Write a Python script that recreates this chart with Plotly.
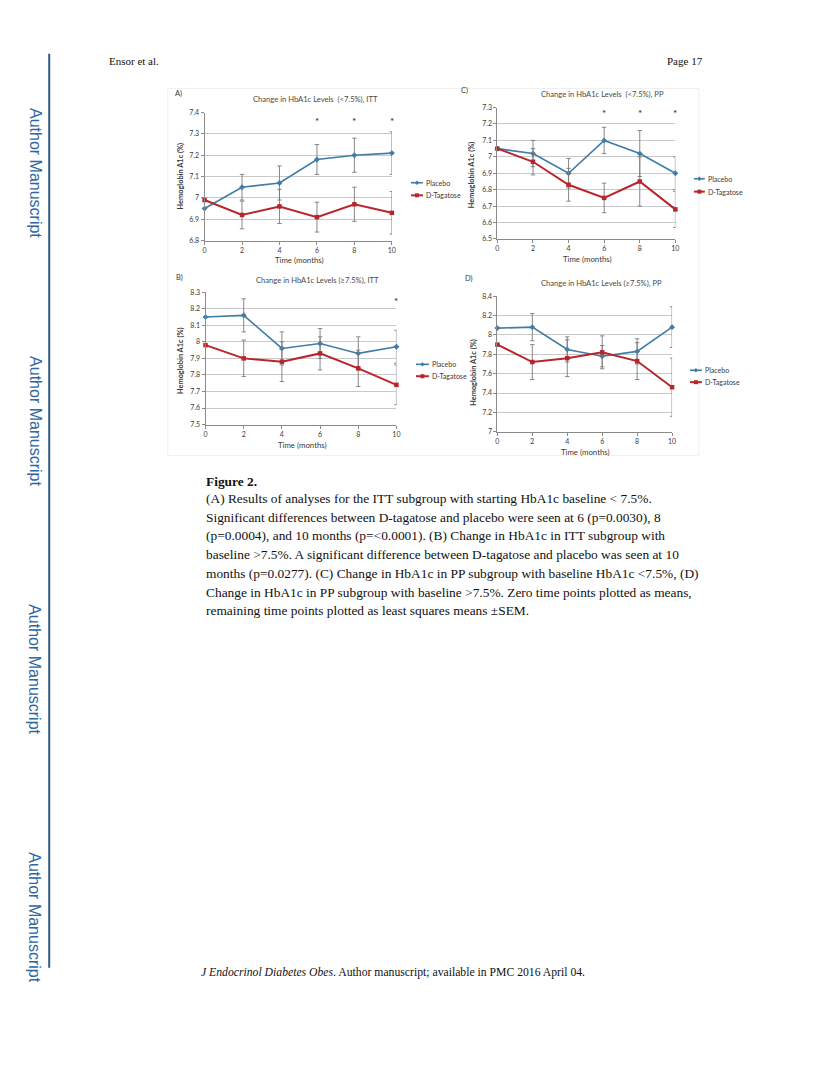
import plotly.graph_objects as go

# ---------------- data ----------------
months = [0, 2, 4, 6, 8, 10]

a_placebo = [6.95, 7.05, 7.07, 7.18, 7.20, 7.21]
a_placebo_err = [None, 0.06, 0.08, 0.07, 0.08, 0.10]
a_tagatose = [6.99, 6.92, 6.96, 6.91, 6.97, 6.93]
a_tagatose_err = [None, 0.065, 0.08, 0.07, 0.08, 0.10]
a_sig = [6, 8, 10]

c_placebo = [7.05, 7.02, 6.90, 7.10, 7.02, 6.90]
c_placebo_err = [None, 0.08, 0.09, 0.08, 0.14, 0.10]
c_tagatose = [7.05, 6.97, 6.83, 6.75, 6.85, 6.68]
c_tagatose_err = [None, 0.08, 0.10, 0.09, 0.15, 0.11]
c_sig = [6, 8, 10]

b_placebo = [8.15, 8.16, 7.96, 7.99, 7.93, 7.97]
b_placebo_err = [None, 0.10, 0.10, 0.09, 0.10, 0.10]
b_tagatose = [7.98, 7.90, 7.88, 7.93, 7.84, 7.74]
b_tagatose_err = [None, 0.11, 0.12, 0.10, 0.11, 0.12]
b_sig = [10]

d_placebo = [8.07, 8.08, 7.85, 7.78, 7.83, 8.08]
d_placebo_err = [None, 0.14, 0.13, 0.11, 0.13, 0.21]
d_tagatose = [7.90, 7.72, 7.76, 7.82, 7.73, 7.46]
d_tagatose_err = [None, 0.18, 0.19, 0.17, 0.19, 0.30]
d_sig = []

a_yticks = [6.8, 6.9, 7.0, 7.1, 7.2, 7.3, 7.4]
a_yticktext = ["6.8", "6.9", "7", "7.1", "7.2", "7.3", "7.4"]
c_yticks = [6.5, 6.6, 6.7, 6.8, 6.9, 7.0, 7.1, 7.2, 7.3]
c_yticktext = ["6.5", "6.6", "6.7", "6.8", "6.9", "7", "7.1", "7.2", "7.3"]
b_yticks = [7.5, 7.6, 7.7, 7.8, 7.9, 8.0, 8.1, 8.2, 8.3]
b_yticktext = ["7.5", "7.6", "7.7", "7.8", "7.9", "8", "8.1", "8.2", "8.3"]
d_yticks = [7.0, 7.2, 7.4, 7.6, 7.8, 8.0, 8.2, 8.4]
d_yticktext = ["7", "7.2", "7.4", "7.6", "7.8", "8", "8.2", "8.4"]

series_names = ["Placebo", "D-Tagatose"]
titles = {
    "A": "Change in HbA1c Levels  (&lt;7.5%), ITT",
    "C": "Change in HbA1c Levels  (&lt;7.5%), PP",
    "B": "Change in HbA1c Levels (≥7.5%), ITT",
    "D": "Change in HbA1c Levels (≥7.5%), PP",
}
x_title = "Time (months)"
y_title = "Hemoglobin A1c (%)"

caption_head = "Figure 2."
caption_lines = [
    "(A) Results of analyses for the ITT subgroup with starting HbA1c baseline &lt; 7.5%.",
    "Significant differences between D-tagatose and placebo were seen at 6 (p=0.0030), 8",
    "(p=0.0004), and 10 months (p=&lt;0.0001). (B) Change in HbA1c in ITT subgroup with",
    "baseline &gt;7.5%. A significant difference between D-tagatose and placebo was seen at 10",
    "months (p=0.0277). (C) Change in HbA1c in PP subgroup with baseline HbA1c &lt;7.5%, (D)",
    "Change in HbA1c in PP subgroup with baseline &gt;7.5%. Zero time points plotted as means,",
    "remaining time points plotted as least squares means ±SEM.",
]
header_left = "Ensor et al."
header_right = "Page 17"
footer = "<i>J Endocrinol Diabetes Obes</i>. Author manuscript; available in PMC 2016 April 04."
side_label = "Author Manuscript"

# ---------------- layout helpers ----------------
# the page body has an 8px default margin; figure fills the rest of the window
OFF = 8
W, H = 830 - 2 * OFF, 1074 - 2 * OFF
def X(px):
    return (px - OFF) / W
def Y(py):
    return 1 - (py - OFF) / H

BLUE = "#3f7ca6"
RED = "#b8252d"
ERR = "#7a7a7a"
GRID = "#c9c9c9"
AXIS = "#8a8a8a"
TXT = "#3a3a3a"
CFONT = "Lato"

panels = [
    dict(key="A", ax="", px=(204, 392.7), py=(108.3, 237.3), rng=(6.8, 7.4),
         data=(a_placebo, a_placebo_err, a_tagatose, a_tagatose_err), sig=a_sig, star_y=7.36,
         ticks=(a_yticks, a_yticktext), letter=(178, 89), title=(316, 95),
         ytit=(180, 172), xtit=(300, 257), leg=(412, 424, 179, 191.7)),
    dict(key="C", ax="2", px=(499, 678.3), py=(103.3, 235.7), rng=(6.5, 7.3),
         data=(c_placebo, c_placebo_err, c_tagatose, c_tagatose_err), sig=c_sig, star_y=7.265,
         ticks=(c_yticks, c_yticktext), letter=(466, 86), title=(605, 90),
         ytit=(473, 171), xtit=(590, 255.5), leg=(697, 708, 175, 188)),
    dict(key="B", ax="3", px=(205, 397.3), py=(289.3, 422.7), rng=(7.5, 8.3),
         data=(b_placebo, b_placebo_err, b_tagatose, b_tagatose_err), sig=b_sig, star_y=8.248,
         ticks=(b_yticks, b_yticktext), letter=(179, 275), title=(318, 276.7),
         ytit=(180, 358), xtit=(303, 443), leg=(417, 430, 362, 374)),
    dict(key="D", ax="4", px=(499, 675), py=(293.3, 430), rng=(7.0, 8.4),
         data=(d_placebo, d_placebo_err, d_tagatose, d_tagatose_err), sig=d_sig, star_y=8.35,
         ticks=(d_yticks, d_yticktext), letter=(470, 276), title=(604, 280),
         ytit=(475, 370), xtit=(588, 450), leg=(693, 705, 368, 380)),
]

fig = go.Figure()
annotations = []
shapes = []

for p in panels:
    xa = "x" + p["ax"]
    ya = "y" + p["ax"]
    pl, ple, tg, tge = p["data"]
    fig.add_trace(go.Scatter(
        x=months, y=pl, xaxis=xa, yaxis=ya, name=series_names[0], mode="lines+markers",
        line=dict(color=BLUE, width=1.6), marker=dict(symbol="diamond", size=4.5, color=BLUE),
        error_y=dict(type="data", array=ple, color=ERR, thickness=0.9, width=2.2),
        cliponaxis=False, showlegend=False))
    fig.add_trace(go.Scatter(
        x=months, y=tg, xaxis=xa, yaxis=ya, name=series_names[1], mode="lines+markers",
        line=dict(color=RED, width=2.0), marker=dict(symbol="square", size=4.5, color=RED),
        error_y=dict(type="data", array=tge, color=ERR, thickness=0.9, width=2.2),
        cliponaxis=False, showlegend=False))

    xkey = "xaxis" + p["ax"]
    ykey = "yaxis" + p["ax"]
    fig.layout[xkey] = dict(
        domain=[X(p["px"][0]), X(p["px"][1])], anchor=ya, range=[0, 10],
        tickvals=months, ticktext=[str(m) for m in months], ticks="outside", ticklen=3,
        tickcolor=AXIS, showline=True, linecolor=AXIS, linewidth=1, showgrid=False,
        zeroline=False, tickfont=dict(family=CFONT, size=7, color=TXT), fixedrange=True)
    fig.layout[ykey] = dict(
        domain=[Y(p["py"][1]), Y(p["py"][0])], anchor=xa, range=list(p["rng"]),
        tickvals=p["ticks"][0], ticktext=p["ticks"][1], ticks="outside", ticklen=3,
        tickcolor=AXIS, showline=True, linecolor=AXIS, linewidth=1, showgrid=True,
        gridcolor=GRID, gridwidth=1, zeroline=False,
        tickfont=dict(family=CFONT, size=7, color=TXT), fixedrange=True)

    # significance stars
    for m in p["sig"]:
        annotations.append(dict(x=m, y=p["star_y"], xref=xa, yref=ya, text="*",
                                showarrow=False, font=dict(family=CFONT, size=10, color="#222"),
                                yanchor="middle"))
    # panel letter
    annotations.append(dict(x=X(p["letter"][0]), y=Y(p["letter"][1]), xref="paper", yref="paper",
                            text=p["key"] + ")", showarrow=False, xanchor="center", yanchor="middle",
                            font=dict(family=CFONT, size=7.5, color=TXT)))
    # title
    annotations.append(dict(x=X(p["title"][0]), y=Y(p["title"][1]), xref="paper", yref="paper",
                            text=titles[p["key"]], showarrow=False, xanchor="center", yanchor="middle",
                            font=dict(family=CFONT, size=7.6, color="#4a4a4a")))
    # axis titles
    annotations.append(dict(x=X(p["ytit"][0]), y=Y(p["ytit"][1]), xref="paper", yref="paper",
                            text="<b>" + y_title + "</b>", textangle=-90, showarrow=False,
                            xanchor="center", yanchor="middle",
                            font=dict(family=CFONT, size=7.4, color=TXT)))
    annotations.append(dict(x=X(p["xtit"][0]), y=Y(p["xtit"][1]), xref="paper", yref="paper",
                            text=x_title, showarrow=False, xanchor="center", yanchor="middle",
                            font=dict(family=CFONT, size=7.8, color=TXT)))
    # legend keys
    x0, x1, y0, y1 = p["leg"]
    xm = (x0 + x1) / 2
    for name, col, yy, lw, sym in [(series_names[0], BLUE, y0, 1.6, "d"), (series_names[1], RED, y1, 2.0, "s")]:
        shapes.append(dict(type="line", xref="paper", yref="paper", x0=X(x0), x1=X(x1),
                           y0=Y(yy), y1=Y(yy), line=dict(color=col, width=lw)))
        if sym == "s":
            shapes.append(dict(type="rect", xref="paper", yref="paper", x0=X(xm - 2), x1=X(xm + 2),
                               y0=Y(yy + 2), y1=Y(yy - 2), fillcolor=col, line=dict(width=0)))
        else:
            path = "M {} {} L {} {} L {} {} L {} {} Z".format(
                X(xm - 2.2), Y(yy), X(xm), Y(yy - 2.2), X(xm + 2.2), Y(yy), X(xm), Y(yy + 2.2))
            shapes.append(dict(type="path", xref="paper", yref="paper", path=path,
                               fillcolor=col, line=dict(width=0)))
        annotations.append(dict(x=X(x1 + 1.5), y=Y(yy), xref="paper", yref="paper", text=name,
                                showarrow=False, xanchor="left", yanchor="middle",
                                font=dict(family=CFONT, size=7, color=TXT)))

# faint frame around figure image
shapes.append(dict(type="rect", xref="paper", yref="paper", x0=X(167), x1=X(702),
                   y0=Y(454), y1=Y(84), line=dict(color="#efefef", width=1), layer="below"))

# page decoration: vertical rule and side labels
shapes.append(dict(type="line", xref="paper", yref="paper", x0=X(47.5), x1=X(47.5),
                   y0=Y(49), y1=Y(970), line=dict(color="#2b5b86", width=2)))
for cy in [169, 419, 669, 919]:
    annotations.append(dict(x=X(33), y=Y(cy), xref="paper", yref="paper", text=side_label,
                            textangle=90, showarrow=False, xanchor="center", yanchor="middle",
                            font=dict(family="Liberation Sans", size=16, color="#2f67a0")))

SERIF = "Liberation Serif"
annotations.append(dict(x=X(106), y=Y(56), xref="paper", yref="paper", text=header_left,
                        showarrow=False, xanchor="left", yanchor="middle",
                        font=dict(family=SERIF, size=11, color="#111")))
annotations.append(dict(x=X(708), y=Y(56), xref="paper", yref="paper", text=header_right,
                        showarrow=False, xanchor="right", yanchor="middle",
                        font=dict(family=SERIF, size=11, color="#111")))
annotations.append(dict(x=X(198), y=Y(975), xref="paper", yref="paper", text=footer,
                        showarrow=False, xanchor="left", yanchor="middle",
                        font=dict(family=SERIF, size=11.7, color="#111")))
annotations.append(dict(x=X(203), y=Y(480), xref="paper", yref="paper", text="<b>" + caption_head + "</b>",
                        showarrow=False, xanchor="left", yanchor="middle",
                        font=dict(family=SERIF, size=13.4, color="#111")))
for i, line in enumerate(caption_lines):
    annotations.append(dict(x=X(203), y=Y(497 + i * 18.9), xref="paper", yref="paper", text=line,
                            showarrow=False, xanchor="left", yanchor="middle",
                            font=dict(family=SERIF, size=13.4, color="#111")))

fig.update_layout(
    width=W, height=H, margin=dict(l=0, r=0, t=0, b=0),
    paper_bgcolor="white", plot_bgcolor="white",
    annotations=annotations, shapes=shapes, showlegend=False,
)

fig.write_html("out.html", config={"displayModeBar": False})
